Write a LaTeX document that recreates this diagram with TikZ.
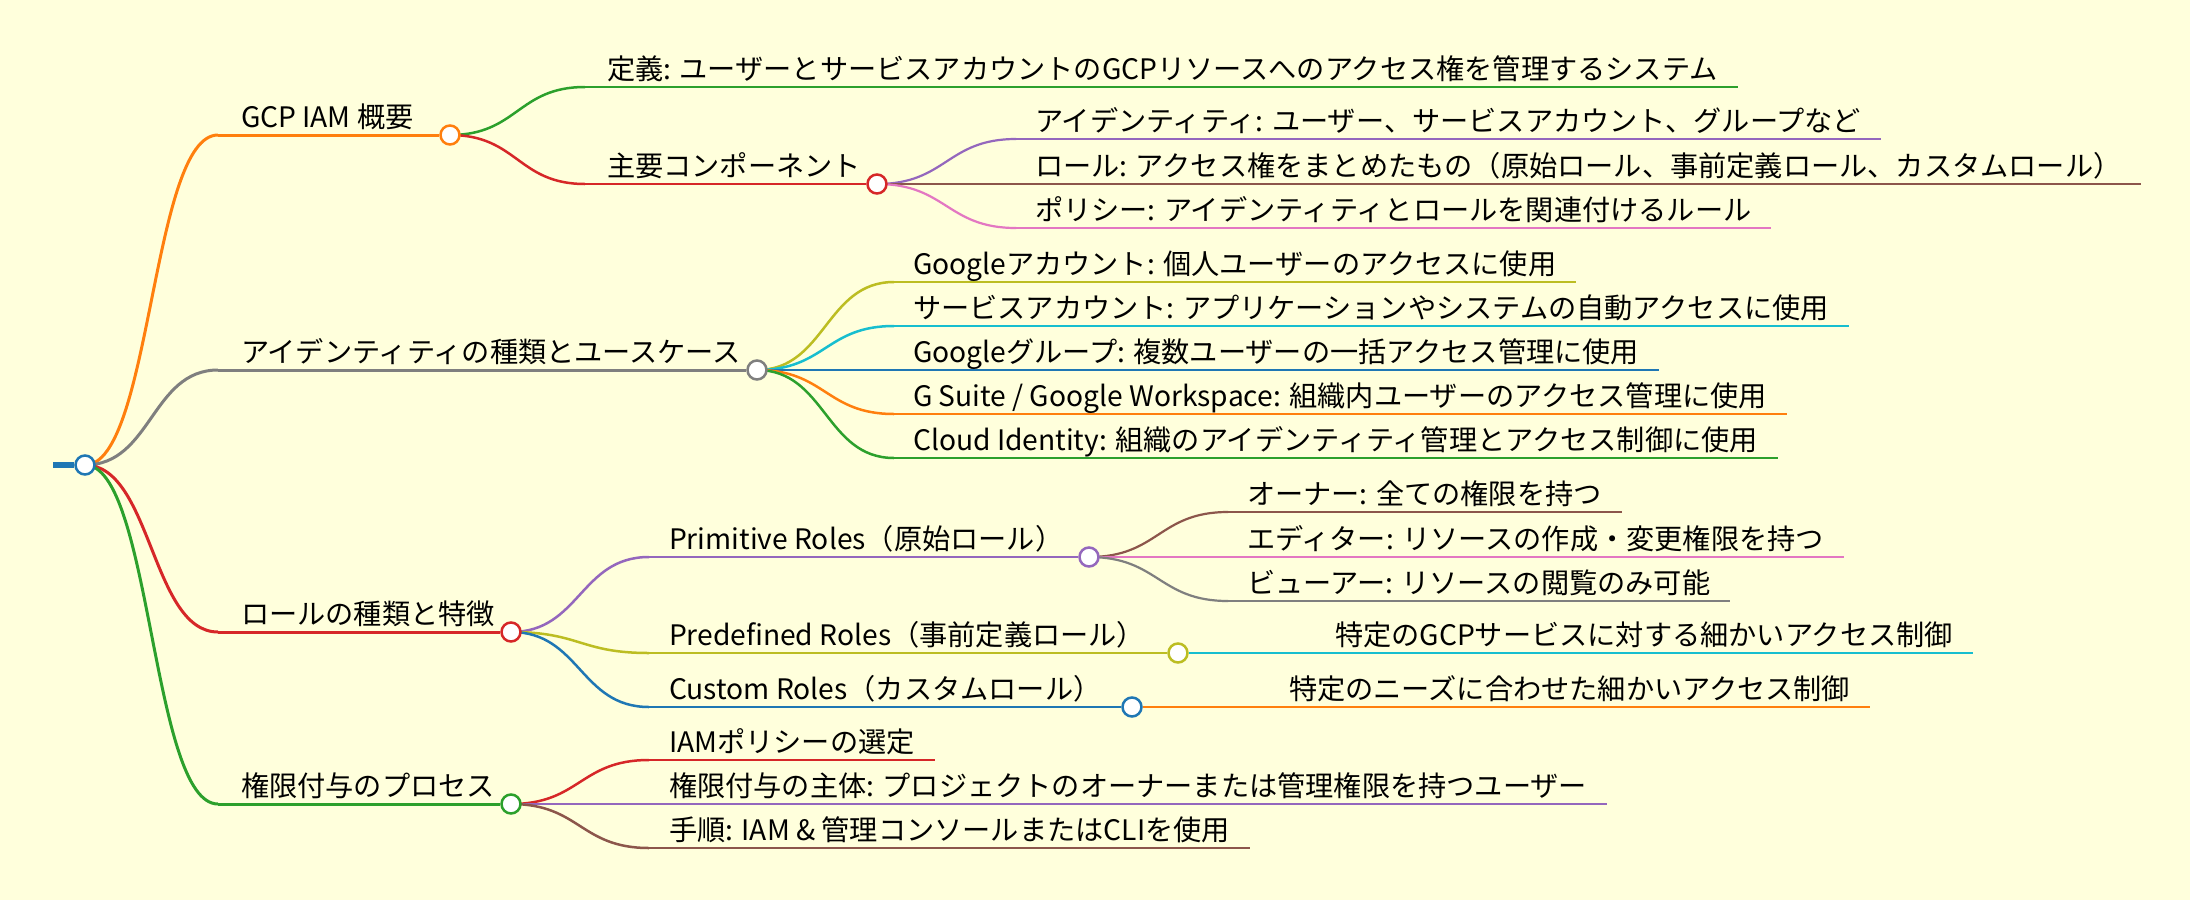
\documentclass[tikz,border=0pt]{standalone}
\usepackage{fontspec}
\setmainfont{Noto Sans CJK JP}
\usetikzlibrary{calc, backgrounds}
\definecolor{mmbg}{HTML}{FFFFDC}
\definecolor{mmblue}{HTML}{1F77B4}
\definecolor{mmorange}{HTML}{FF7F0E}
\definecolor{mmgreen}{HTML}{2CA02C}
\definecolor{mmred}{HTML}{D62728}
\definecolor{mmpurple}{HTML}{9467BD}
\definecolor{mmbrown}{HTML}{8C564B}
\definecolor{mmpink}{HTML}{E377C2}
\definecolor{mmgray}{HTML}{7F7F7F}
\definecolor{mmolive}{HTML}{BCBD22}
\definecolor{mmcyan}{HTML}{17BECF}
\newcommand{\mmlink}[3]{%
  \draw[#3] let \p1=(#1), \p2=(#2), \n1={0.5*\x1+0.5*\x2} in
    (\p1) .. controls (\n1,\y1) and (\n1,\y2) .. (\p2);}
\newcommand{\mmleaf}[2]{%
  \draw[#2] (#1-s) -- ($(#1-s -| #1.east)+(20,0)$);}

\begin{document}
\begin{tikzpicture}[x=1pt, y=-1pt,
  lbl/.style={anchor=base west, inner sep=0pt, outer sep=0pt,
              font=\fontsize{28.2pt}{34pt}\selectfont},
  dot/.style={circle, fill=white, line width=2.5pt, minimum size=19pt, inner sep=0pt},
  e1/.style={line width=3pt},
  e2/.style={line width=2.5pt},
  e3/.style={line width=2.2pt}
]
\useasboundingbox (0,0) rectangle (2190,900);

\node[dot, draw=mmblue] (r) at (85,465) {};
\coordinate (r-s) at (53,465);

\coordinate (gcp-s) at (218,135);
\coordinate (idt-s) at (218,370);
\coordinate (rol-s) at (218,632);
\coordinate (prc-s) at (218,804);
\node[lbl] (gcp) at ($(gcp-s)+(23,-8)$) {GCP IAM 概要};
\node[lbl] (idt) at ($(idt-s)+(23,-8)$) {アイデンティティの種類とユースケース};
\node[lbl] (rol) at ($(rol-s)+(23,-8)$) {ロールの種類と特徴};
\node[lbl] (prc) at ($(prc-s)+(23,-8)$) {権限付与のプロセス};
\node[dot, draw=mmorange] (gcp-d) at (450,135) {};
\node[dot, draw=mmgray]   (idt-d) at (757,370) {};
\node[dot, draw=mmred]    (rol-d) at (511,632) {};
\node[dot, draw=mmgreen]  (prc-d) at (511,804) {};

\coordinate (def-s) at (585,87);
\coordinate (cmp-s) at (585,184);
\node[lbl] (def) at ($(def-s)+(22,-8)$) {定義: ユーザーとサービスアカウントのGCPリソースへのアクセス権を管理するシステム};
\node[lbl] (cmp) at ($(cmp-s)+(22,-8)$) {主要コンポーネント};
\node[dot, draw=mmred] (cmp-d) at (877,184) {};

\coordinate (cid-s) at (1016,139);
\coordinate (crl-s) at (1016,184);
\coordinate (cpl-s) at (1016,228);
\node[lbl] (cid) at ($(cid-s)+(19,-8)$) {アイデンティティ: ユーザー、サービスアカウント、グループなど};
\node[lbl] (crl) at ($(crl-s)+(19,-8)$) {ロール: アクセス権をまとめたもの（原始ロール、事前定義ロール、カスタムロール）};
\node[lbl] (cpl) at ($(cpl-s)+(19,-8)$) {ポリシー: アイデンティティとロールを関連付けるルール};

\coordinate (gac-s) at (894,282);
\coordinate (sac-s) at (894,326);
\coordinate (ggr-s) at (894,370);
\coordinate (gws-s) at (894,414);
\coordinate (cld-s) at (894,458);
\node[lbl] (gac) at ($(gac-s)+(19,-8)$) {Googleアカウント: 個人ユーザーのアクセスに使用};
\node[lbl] (sac) at ($(sac-s)+(19,-8)$) {サービスアカウント: アプリケーションやシステムの自動アクセスに使用};
\node[lbl] (ggr) at ($(ggr-s)+(19,-8)$) {Googleグループ: 複数ユーザーの一括アクセス管理に使用};
\node[lbl] (gws) at ($(gws-s)+(19,-8)$) {G Suite / Google Workspace: 組織内ユーザーのアクセス管理に使用};
\node[lbl] (cld) at ($(cld-s)+(19,-8)$) {Cloud Identity: 組織のアイデンティティ管理とアクセス制御に使用};

\coordinate (pri-s) at (649,557);
\coordinate (pre-s) at (649,653);
\coordinate (cus-s) at (649,707);
\node[lbl] (pri) at ($(pri-s)+(20,-8)$) {Primitive Roles（原始ロール）};
\node[lbl] (pre) at ($(pre-s)+(20,-8)$) {Predefined Roles（事前定義ロール）};
\node[lbl] (cus) at ($(cus-s)+(20,-8)$) {Custom Roles（カスタムロール）};
\node[dot, draw=mmpurple] (pri-d) at (1089,557) {};
\node[dot, draw=mmolive]  (pre-d) at (1178,653) {};
\node[dot, draw=mmblue]   (cus-d) at (1132,707) {};

\coordinate (own-s) at (1228,512);
\coordinate (edt-s) at (1228,557);
\coordinate (vwr-s) at (1228,601);
\node[lbl] (own) at ($(own-s)+(19,-8)$) {オーナー: 全ての権限を持つ};
\node[lbl] (edt) at ($(edt-s)+(19,-8)$) {エディター: リソースの作成・変更権限を持つ};
\node[lbl] (vwr) at ($(vwr-s)+(19,-8)$) {ビューアー: リソースの閲覧のみ可能};
\coordinate (gsv-s) at (1317,653);
\node[lbl] (gsv) at ($(gsv-s)+(18,-8)$) {特定のGCPサービスに対する細かいアクセス制御};
\coordinate (nds-s) at (1271,707);
\node[lbl] (nds) at ($(nds-s)+(18,-8)$) {特定のニーズに合わせた細かいアクセス制御};

\coordinate (sel-s) at (649,760);
\coordinate (who-s) at (649,804);
\coordinate (stp-s) at (649,848);
\node[lbl] (sel) at ($(sel-s)+(20,-8)$) {IAMポリシーの選定};
\node[lbl] (who) at ($(who-s)+(20,-8)$) {権限付与の主体: プロジェクトのオーナーまたは管理権限を持つユーザー};
\node[lbl] (stp) at ($(stp-s)+(20,-8)$) {手順: IAM \& 管理コンソールまたはCLIを使用};

\begin{scope}[on background layer]
\fill[mmbg] (0,0) rectangle (2190,900);
\draw[mmblue, line width=6pt] (r-s) -- (r);
\mmlink{r}{gcp-s}{e1, mmorange}
\mmlink{r}{idt-s}{e1, mmgray}
\mmlink{r}{rol-s}{e1, mmred}
\mmlink{r}{prc-s}{e1, mmgreen}
\draw[e1, mmorange] (gcp-s) -- (gcp-d);
\draw[e1, mmgray]   (idt-s) -- (idt-d);
\draw[e1, mmred]    (rol-s) -- (rol-d);
\draw[e1, mmgreen]  (prc-s) -- (prc-d);

\mmlink{gcp-d}{def-s}{e2, mmgreen}
\mmlink{gcp-d}{cmp-s}{e2, mmred}
\mmleaf{def}{e2, mmgreen}
\draw[e2, mmred] (cmp-s) -- (cmp-d);
\mmlink{cmp-d}{cid-s}{e3, mmpurple}
\mmlink{cmp-d}{crl-s}{e3, mmbrown}
\mmlink{cmp-d}{cpl-s}{e3, mmpink}
\mmleaf{cid}{e3, mmpurple}
\mmleaf{crl}{e3, mmbrown}
\mmleaf{cpl}{e3, mmpink}

\mmlink{idt-d}{gac-s}{e2, mmolive}
\mmlink{idt-d}{sac-s}{e2, mmcyan}
\mmlink{idt-d}{ggr-s}{e2, mmblue}
\mmlink{idt-d}{gws-s}{e2, mmorange}
\mmlink{idt-d}{cld-s}{e2, mmgreen}
\mmleaf{gac}{e2, mmolive}
\mmleaf{sac}{e2, mmcyan}
\mmleaf{ggr}{e2, mmblue}
\mmleaf{gws}{e2, mmorange}
\mmleaf{cld}{e2, mmgreen}

\mmlink{rol-d}{pri-s}{e2, mmpurple}
\mmlink{rol-d}{pre-s}{e2, mmolive}
\mmlink{rol-d}{cus-s}{e2, mmblue}
\draw[e2, mmpurple] (pri-s) -- (pri-d);
\draw[e2, mmolive]  (pre-s) -- (pre-d);
\draw[e2, mmblue]   (cus-s) -- (cus-d);
\mmlink{pri-d}{own-s}{e3, mmbrown}
\mmlink{pri-d}{edt-s}{e3, mmpink}
\mmlink{pri-d}{vwr-s}{e3, mmgray}
\mmleaf{own}{e3, mmbrown}
\mmleaf{edt}{e3, mmpink}
\mmleaf{vwr}{e3, mmgray}
\draw[e3, mmcyan] (pre-d) -- (gsv-s);
\mmleaf{gsv}{e3, mmcyan}
\draw[e3, mmorange] (cus-d) -- (nds-s);
\mmleaf{nds}{e3, mmorange}

\mmlink{prc-d}{sel-s}{e2, mmred}
\mmlink{prc-d}{who-s}{e2, mmpurple}
\mmlink{prc-d}{stp-s}{e2, mmbrown}
\mmleaf{sel}{e2, mmred}
\mmleaf{who}{e2, mmpurple}
\mmleaf{stp}{e2, mmbrown}
\end{scope}
\end{tikzpicture}
\end{document}
